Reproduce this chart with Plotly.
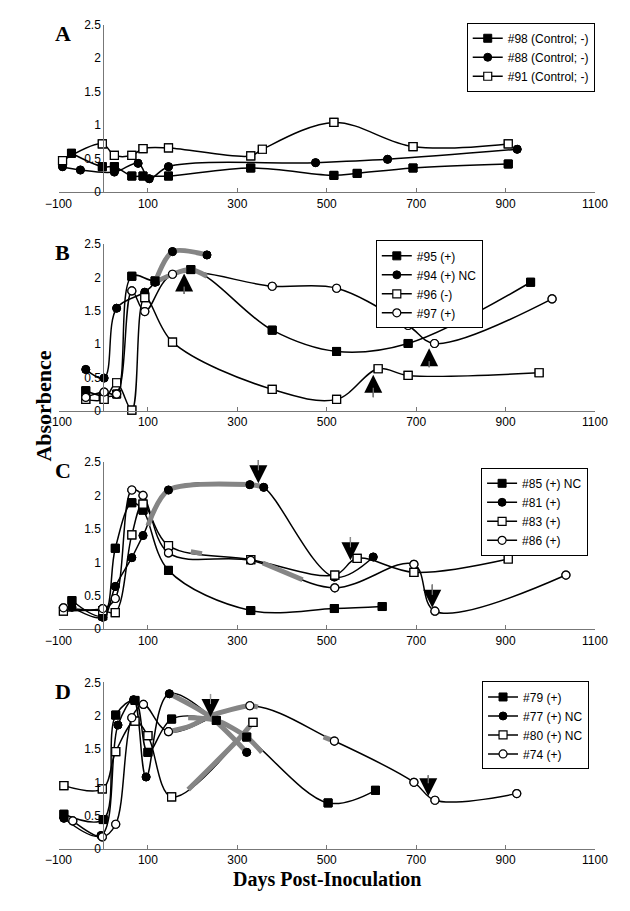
import plotly.graph_objects as go

# ---------------- data ----------------
# Panel A
A_x98 = [-71, -2, 25, 64, 89, 146, 330, 516, 568, 693, 906]
A_y98 = [0.58, 0.38, 0.38, 0.24, 0.24, 0.24, 0.36, 0.25, 0.28, 0.36, 0.42]
A_x88 = [-91, -51, 25, 78, 103, 146, 475, 636, 926]
A_y88 = [0.38, 0.33, 0.30, 0.43, 0.20, 0.38, 0.44, 0.49, 0.64]
A_x91 = [-91, -2, 25, 64, 89, 146, 330, 356, 516, 693, 906]
A_y91 = [0.47, 0.72, 0.55, 0.55, 0.65, 0.66, 0.54, 0.64, 1.04, 0.68, 0.72]

# Panel B
B_x95 = [-39, 0, 30, 64, 116, 196, 378, 522, 682, 956]
B_y95 = [0.30, 0.22, 0.25, 2.02, 1.95, 2.12, 1.21, 0.89, 1.01, 1.93]
B_x94 = [-39, 2, 30, 93, 116, 155, 232]
B_y94 = [0.62, 0.49, 1.54, 1.78, 1.93, 2.39, 2.34]
B_x96 = [-39, 2, 30, 64, 93, 155, 378, 522, 615, 682, 975]
B_y96 = [0.17, 0.17, 0.42, 0.01, 1.70, 1.03, 0.32, 0.17, 0.63, 0.53, 0.57]
B_x97 = [-39, 2, 30, 64, 93, 155, 378, 522, 682, 741, 1004]
B_y97 = [0.20, 0.28, 0.25, 1.80, 1.49, 2.05, 1.87, 1.84, 1.28, 1.01, 1.68]
B_grey = [([116, 155, 232], [1.93, 2.39, 2.34]),
          ([116, 155, 196, 232], [1.93, 2.05, 2.12, 2.02])]
B_arrows_up = [(181, 2.06, 1.73), (729, 0.94, 0.63), (604, 0.54, 0.18)]

# Panel C
C_x85 = [-70, -1, 27, 64, 89, 146, 330, 517, 624]
C_y85 = [0.43, 0.20, 1.21, 1.89, 1.78, 0.88, 0.28, 0.31, 0.34]
C_x81 = [-70, -1, 27, 64, 89, 146, 328, 359, 517, 604]
C_y81 = [0.33, 0.18, 0.64, 1.07, 1.40, 2.08, 2.16, 2.12, 0.78, 1.08]
C_x83 = [-89, -1, 27, 64, 89, 146, 330, 518, 568, 695, 906]
C_y83 = [0.27, 0.28, 0.25, 1.41, 1.87, 1.25, 1.04, 0.81, 1.06, 0.85, 1.05]
C_x86 = [-89, -1, 27, 64, 89, 146, 330, 518, 695, 742, 1035]
C_y86 = [0.32, 0.31, 0.46, 2.08, 2.00, 1.14, 1.03, 0.62, 0.97, 0.27, 0.81]
C_grey = [([100, 146, 328, 350], [1.55, 2.08, 2.16, 2.14]),
          ([196, 221], [1.16, 1.13]),
          ([357, 446], [0.99, 0.74])]
C_arrows_down = [(347, 2.18, 2.55), (553, 1.03, 1.40), (736, 0.32, 0.69)]

# Panel D
D_x79 = [-88, 0, 28, 71, 100, 153, 253, 321, 503, 609]
D_y79 = [0.52, 0.44, 2.01, 2.23, 1.45, 1.95, 1.93, 1.68, 0.69, 0.88]
D_x77 = [-88, -5, 33, 68, 96, 148, 321]
D_y77 = [0.46, 0.20, 1.86, 2.24, 1.08, 2.33, 1.45]
D_x80 = [-88, -2, 28, 71, 100, 153, 335]
D_y80 = [0.95, 0.90, 1.46, 1.92, 1.70, 0.78, 1.90]
D_x74 = [-68, -2, 28, 64, 90, 146, 328, 517, 695, 742, 925]
D_y74 = [0.42, 0.18, 0.37, 1.97, 2.17, 1.76, 2.15, 1.62, 1.00, 0.73, 0.83]
D_grey = [([148, 240, 321], [2.33, 1.98, 1.45]),
          ([190, 253, 321, 355], [1.97, 1.93, 1.68, 1.45]),
          ([146, 196, 240, 328, 346], [1.76, 1.85, 2.0, 2.15, 2.13]),
          ([190, 303, 335], [0.89, 1.65, 1.90]),
          ([493, 508], [1.68, 1.64])]
D_arrows_down = [(240, 1.98, 2.35), (727, 0.79, 1.13)]

x_ticks = [-100, 100, 300, 500, 700, 900, 1100]
y_ticks = [0, 0.5, 1, 1.5, 2, 2.5]

# ---------------- layout geometry ----------------
W, H = 630, 911
X0, X1 = 46.5, 607.0
panels_px = [(18, 188), (241, 410), (462, 632), (686, 855)]
legend_px = [(473, 16), (378, 237), (488, 468), (489, 685)]

def px2x(p):
    return p / W

def px2y(p):
    return 1 - p / H

sq_f = dict(symbol="square", size=8, color="black", line=dict(color="black", width=1))
ci_f = dict(symbol="circle", size=8, color="black", line=dict(color="black", width=1))
sq_o = dict(symbol="square", size=8, color="white", line=dict(color="black", width=1.2))
ci_o = dict(symbol="circle", size=8, color="white", line=dict(color="black", width=1.2))

panel_series = [
    [("#98 (Control; -)", A_x98, A_y98, sq_f), ("#88 (Control; -)", A_x88, A_y88, ci_f),
     ("#91 (Control; -)", A_x91, A_y91, sq_o)],
    [("#95 (+)", B_x95, B_y95, sq_f), ("#94 (+) NC", B_x94, B_y94, ci_f),
     ("#96 (-)", B_x96, B_y96, sq_o), ("#97 (+)", B_x97, B_y97, ci_o)],
    [("#85 (+) NC", C_x85, C_y85, sq_f), ("#81 (+)", C_x81, C_y81, ci_f),
     ("#83 (+)", C_x83, C_y83, sq_o), ("#86 (+)", C_x86, C_y86, ci_o)],
    [("#79 (+)", D_x79, D_y79, sq_f), ("#77 (+) NC", D_x77, D_y77, ci_f),
     ("#80 (+) NC", D_x80, D_y80, sq_o), ("#74 (+)", D_x74, D_y74, ci_o)],
]
panel_grey = [[], B_grey, C_grey, D_grey]
panel_arrows = [[], B_arrows_up, C_arrows_down, D_arrows_down]

TICKFONT = dict(family="Arial, Liberation Sans, sans-serif", size=12, color="black")
SERIF = "Times New Roman, Liberation Serif, serif"

fig = go.Figure()
layout = dict(width=W, height=H, margin=dict(l=0, r=0, t=0, b=0),
              plot_bgcolor="white", paper_bgcolor="white", annotations=[])

xdom = [px2x(X0), px2x(X1)]
ypos = px2x(X0 + (X1 - X0) * 100 / 1200)

for i in range(4):
    sfx = "" if i == 0 else str(i + 1)
    xa, ya = "x" + sfx, "y" + sfx
    lg = "legend" + sfx
    top, bot = panels_px[i]
    layout["xaxis" + sfx] = dict(domain=xdom, range=[-100, 1100], anchor=ya,
                                 tickmode="array", tickvals=x_ticks,
                                 ticks="inside", ticklen=4, tickcolor="#777",
                                 showline=True, linecolor="#777", linewidth=1,
                                 showgrid=False, zeroline=False, tickfont=TICKFONT)
    layout["yaxis" + sfx] = dict(domain=[px2y(bot), px2y(top)], range=[0, 2.5],
                                 anchor="free", position=ypos,
                                 tickmode="array", tickvals=y_ticks,
                                 ticks="", showline=True, linecolor="#777", linewidth=1,
                                 showgrid=False, zeroline=False, tickfont=TICKFONT)
    lx, ly = legend_px[i]
    layout[lg] = dict(x=px2x(lx), y=px2y(ly), xanchor="left", yanchor="top",
                      bordercolor="black", borderwidth=1, bgcolor="white",
                      font=dict(family="Arial, Liberation Sans, sans-serif", size=12, color="black"),
                      itemwidth=30, tracegroupgap=0)
    for name, xs, ys, mk in panel_series[i]:
        fig.add_trace(go.Scatter(x=xs, y=ys, mode="lines+markers", name=name,
                                 line=dict(color="black", width=1.5, shape="spline", smoothing=1),
                                 marker=mk, xaxis=xa, yaxis=ya, legend=lg, cliponaxis=False))
    for gx, gy in panel_grey[i]:
        fig.add_trace(go.Scatter(x=gx, y=gy, mode="lines", showlegend=False,
                                 line=dict(color="#858585", width=5, shape="spline", smoothing=0.8),
                                 xaxis=xa, yaxis=ya, hoverinfo="skip"))
    for name, xs, ys, mk in panel_series[i]:
        fig.add_trace(go.Scatter(x=xs, y=ys, mode="markers", showlegend=False,
                                 marker=mk, xaxis=xa, yaxis=ya, cliponaxis=False,
                                 hoverinfo="skip"))
    for x, tip, tail in panel_arrows[i]:
        layout["annotations"].append(dict(x=x, y=tip, ax=x, ay=tail, xref=xa, yref=ya,
                                          axref=xa, ayref=ya, text="", showarrow=True,
                                          arrowhead=2, arrowsize=3.0, arrowwidth=1.2,
                                          arrowcolor="black"))
        layout["annotations"].append(dict(x=x, y=tip, ax=x, ay=tail, xref=xa, yref=ya,
                                          axref=xa, ayref=ya, text="", showarrow=True,
                                          arrowhead=0, arrowwidth=1, arrowcolor="#999",
                                          standoff=13))
    layout["annotations"].append(dict(text="<b>" + "ABCD"[i] + "</b>", x=px2x(41), y=px2y(top - 6),
                                      xref="paper", yref="paper", xanchor="left", yanchor="top",
                                      showarrow=False, font=dict(family=SERIF, size=22, color="black")))

layout["annotations"].append(dict(text="<b>Absorbence</b>", x=px2x(16), y=px2y(405),
                                  xref="paper", yref="paper", textangle=-90, showarrow=False,
                                  font=dict(family=SERIF, size=22, color="black")))
layout["annotations"].append(dict(text="<b>Days Post-Inoculation</b>", x=px2x(327), y=px2y(899),
                                  xref="paper", yref="paper", showarrow=False, borderpad=0,
                                  font=dict(family=SERIF, size=20, color="black")))

fig.update_layout(**layout)
fig.write_html("out.html", config={"displayModeBar": False},
               post_script="document.body.style.margin='0px';")
